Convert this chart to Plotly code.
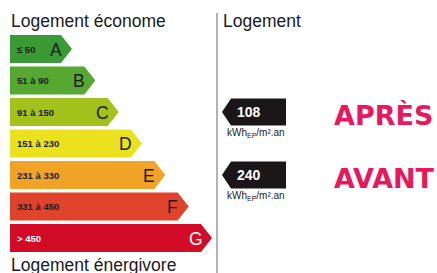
import plotly.graph_objects as go

# ---- data ----
grades = ["A", "B", "C", "D", "E", "F", "G"]
ranges = ["≤ 50", "51 à 90", "91 à 150", "151 à 230", "231 à 330", "331 à 450", "> 450"]
upper_limits = [50, 90, 150, 230, 330, 450]
bar_colors = ["#3b9a35", "#57a832", "#a4c21c", "#ebe21f", "#f0a327", "#e0432b", "#d20c26"]
label_colors = ["#1a1a1a", "#1a1a1a", "#1a1a1a", "#1a1a1a", "#1a1a1a", "#1a1a1a", "#ffffff"]
cases = ["APRÈS", "AVANT"]
case_values = [108, 240]
unit_label = "kWh<sub>EP</sub>/m².an"
title_top = "Logement économe"
title_bottom = "Logement énergivore"
title_right = "Logement"

# ---- layout constants (pixels) ----
W, H = 437, 273
Y0_PX, PITCH = 49, 31.5
BAR_LEFT, TIP0, TIP_STEP, TIP_DEPTH = 10, 72, 23.33, 11
HALF = 14 / PITCH
BADGE_TIP, BADGE_BODY, BADGE_RIGHT = 222, 231, 286
BADGE_HALF = 13.5 / PITCH
PINK = "#e8185c"
FONT = "Liberation Sans, Arial, sans-serif"


def yp(px):
    return 1 - px / H


def grade_index(v):
    return sum(v > lim for lim in upper_limits)


fig = go.Figure()
ann = []

for i, g in enumerate(grades):
    tip = TIP0 + i * TIP_STEP
    body = tip - TIP_DEPTH
    xs = [BAR_LEFT, body, tip, body, BAR_LEFT, BAR_LEFT]
    ys = [i - HALF, i - HALF, i, i + HALF, i + HALF, i - HALF]
    fig.add_trace(go.Scatter(x=xs, y=ys, mode="lines", fill="toself",
                             fillcolor=bar_colors[i], line=dict(width=0),
                             hoverinfo="skip", showlegend=False))
    ann.append(dict(x=15, y=i, xref="x", yref="y", text=ranges[i], showarrow=False,
                    xanchor="left", yanchor="middle",
                    font=dict(family=FONT, size=9.5, color=label_colors[i], weight="bold")))
    ann.append(dict(x=tip - 16, y=i + 0.02, xref="x", yref="y", text=g, showarrow=False,
                    xanchor="center", yanchor="middle",
                    font=dict(family=FONT, size=17.5, color=label_colors[i])))

for name, v in zip(cases, case_values):
    c = grade_index(v)
    xs = [BADGE_TIP, BADGE_BODY, BADGE_RIGHT, BADGE_RIGHT, BADGE_BODY, BADGE_TIP]
    ys = [c, c - BADGE_HALF, c - BADGE_HALF, c + BADGE_HALF, c + BADGE_HALF, c]
    fig.add_trace(go.Scatter(x=xs, y=ys, mode="lines", fill="toself",
                             fillcolor="#1b1718", line=dict(width=0),
                             hoverinfo="skip", showlegend=False))
    ann.append(dict(x=249, y=c, xref="x", yref="y", text=str(v), showarrow=False,
                    xanchor="center", yanchor="middle",
                    font=dict(family=FONT, size=14, color="#ffffff", weight="bold")))
    ann.append(dict(x=256, y=c + 0.66, xref="x", yref="y", text=unit_label, showarrow=False,
                    xanchor="center", yanchor="middle",
                    font=dict(family=FONT, size=10, color="#1a1a1a")))
    ann.append(dict(x=332, y=c + 0.1, xref="x", yref="y", text=name, showarrow=False,
                    xanchor="left", yanchor="middle",
                    font=dict(family="DejaVu Sans, sans-serif", size=27, color=PINK, weight="bold")))

ann.append(dict(x=9, y=yp(21), xref="x", yref="paper", text=title_top, showarrow=False,
                xanchor="left", yanchor="middle",
                font=dict(family=FONT, size=17.5, color="#1a1a1a")))
ann.append(dict(x=9, y=yp(265), xref="x", yref="paper", text=title_bottom, showarrow=False,
                xanchor="left", yanchor="middle",
                font=dict(family=FONT, size=17.5, color="#1a1a1a")))
ann.append(dict(x=221, y=yp(21), xref="x", yref="paper", text=title_right, showarrow=False,
                xanchor="left", yanchor="middle",
                font=dict(family=FONT, size=17.5, color="#1a1a1a")))

fig.add_shape(type="line", x0=217, x1=217, y0=yp(13), y1=yp(273), xref="x", yref="paper",
              line=dict(color="#9a9a9a", width=1.5))

fig.update_layout(
    width=W, height=H,
    margin=dict(l=0, r=0, t=0, b=0),
    paper_bgcolor="white", plot_bgcolor="white",
    xaxis=dict(range=[0, W], visible=False, fixedrange=True),
    yaxis=dict(range=[(H - Y0_PX) / PITCH, -Y0_PX / PITCH], visible=False, fixedrange=True),
    annotations=ann,
    showlegend=False,
)

fig.write_html("out.html", config={"displayModeBar": False},
               post_script="document.body.style.margin='0';document.body.style.overflow='hidden';")
